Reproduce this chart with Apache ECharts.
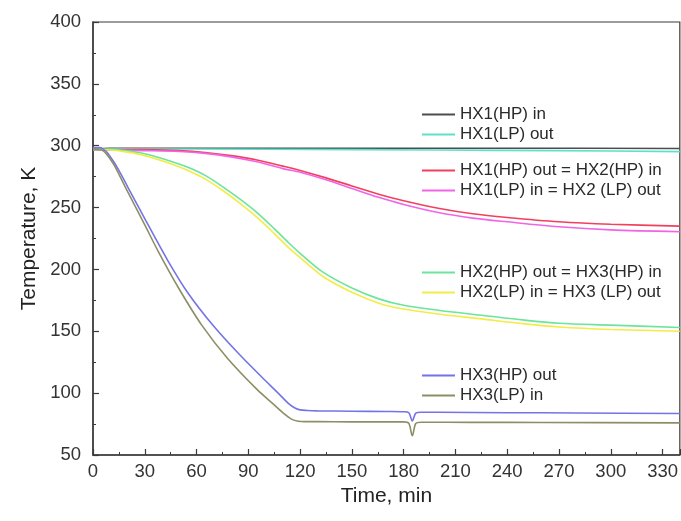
<!DOCTYPE html>
<html>
<head>
<meta charset="utf-8">
<script src="https://cdn.jsdelivr.net/npm/echarts@6/dist/echarts.min.js"></script>
<style>
  html, body { margin: 0; padding: 0; background: #fff; }
  #chart { width: 681px; height: 521px; }
</style>
</head>
<body>
<div id="chart"></div>
<script>
// Heat exchanger stream temperatures during cool-down (time in min, temperature in K)

const hx1HpInTime = [0, 10, 120, 240, 340];
const hx1HpIn     = [297.5, 298, 298, 298, 297.8];

const hx1LpOutTime = [0, 10, 100, 200, 270, 340];
const hx1LpOut     = [297, 297.5, 297.2, 296.5, 296, 295.2];

const hx1HpOutTime = [0, 10, 30, 50, 65, 80, 95, 110, 120, 135, 150, 165, 180, 200, 220, 240, 270, 300, 340];
const hx1HpOut     = [297, 297, 296.8, 296, 294.5, 292, 288.5, 283.5, 280, 274, 267.5, 261, 255.5, 249.5, 245, 242, 238.5, 236.5, 235];

const hx1LpInTime = [0, 10, 30, 50, 65, 80, 95, 110, 120, 135, 150, 165, 180, 200, 220, 240, 270, 300, 340];
const hx1LpIn     = [297, 296.5, 296, 295.3, 293.8, 291, 287, 281.5, 278.5, 272.5, 265.5, 258.5, 252.5, 246, 241.5, 238.5, 234.5, 232, 230.5];

const hx2HpOutTime = [0, 10, 20, 30, 45, 55, 65, 75, 85, 95, 105, 113, 120, 133, 150, 166, 180, 200, 225, 250, 270, 300, 340];
const hx2HpOut     = [297, 297, 295.8, 293.5, 287.5, 282.5, 276, 267, 257, 246, 233, 222, 213, 198, 185, 176, 171, 167, 163, 159, 156.5, 155, 153];

const hx2LpInTime = [0, 10, 20, 30, 45, 55, 65, 75, 85, 95, 105, 113, 120, 133, 150, 166, 180, 200, 225, 250, 270, 300, 340];
const hx2LpIn     = [297, 296.5, 294.8, 292, 285.5, 280, 273, 264, 253.5, 242, 229, 218, 209.5, 194.5, 181.5, 172.5, 168, 164, 160, 156, 153.5, 151.5, 150];

const hx3HpOutTime = [0, 4, 6, 8, 12, 15, 20, 30, 43, 55, 70, 85, 100, 108, 113, 117, 120, 124, 130, 150, 170, 180, 183, 185, 187, 190, 200, 240, 280, 340];
const hx3HpOut     = [298.5, 298.5, 297, 295, 287, 280, 267, 241, 208, 181, 154, 131, 110, 99, 92, 88, 86.5, 86, 85.7, 85.4, 85.2, 85, 84.2, 77.5, 83.8, 84.6, 84.5, 84.2, 84, 83.5];

const hx3LpInTime = [0, 5, 8, 12, 15, 20, 30, 38, 50, 63, 78, 95, 105, 111, 115, 119, 123, 130, 150, 180, 183, 185, 187, 190, 220, 260, 340];
const hx3LpIn     = [297, 296.5, 293, 285, 277, 263, 236, 214, 184, 155, 128, 103, 90.5, 83, 79, 77.3, 77, 77, 76.8, 76.8, 75.5, 65.5, 75.5, 76.5, 76.4, 76.3, 76];

const seriesNames = [
  'HX1(HP) in',
  'HX1(LP) out',
  'HX1(HP) out = HX2(HP) in',
  'HX1(LP) in = HX2 (LP) out',
  'HX2(HP) out = HX3(HP) in',
  'HX2(LP) in = HX3 (LP) out',
  'HX3(HP) out',
  'HX3(LP) in'
];
const seriesColors = ['#4d4d4d', '#5fe0c8', '#f2405c', '#f264e6', '#6ce49a', '#f2ec48', '#7474e6', '#8e8e66'];

const seriesTimes  = [hx1HpInTime, hx1LpOutTime, hx1HpOutTime, hx1LpInTime, hx2HpOutTime, hx2LpInTime, hx3HpOutTime, hx3LpInTime];
const seriesValues = [hx1HpIn, hx1LpOut, hx1HpOut, hx1LpIn, hx2HpOut, hx2LpIn, hx3HpOut, hx3LpIn];

const xTicks = { min: 0, max: 340, interval: 30 };
const yTicks = { min: 50, max: 400, interval: 50 };

const FONT = '"Liberation Sans", Arial, Helvetica, sans-serif';

const zip = (ts, vs) => ts.map((t, i) => [t, vs[i]]);

const series = seriesNames.map((name, i) => ({
  name,
  type: 'line',
  data: zip(seriesTimes[i], seriesValues[i]),
  symbol: 'none',
  smooth: 0.3,
  color: seriesColors[i],
  lineStyle: { color: seriesColors[i], width: 1.6 },
  z: 2 + i
}));

const legendBase = {
  orient: 'vertical',
  left: 422,
  padding: 0,
  icon: 'rect',
  itemWidth: 33,
  itemHeight: 2,
  itemGap: 3,
  selectedMode: false,
  textStyle: { fontFamily: FONT, fontSize: 17, color: '#2a2a2a', lineHeight: 14 }
};

const legendGroups = [
  { top: 106, names: seriesNames.slice(0, 2) },
  { top: 162, names: seriesNames.slice(2, 4) },
  { top: 264, names: seriesNames.slice(4, 6) },
  { top: 367, names: seriesNames.slice(6, 8) }
];

const chart = echarts.init(document.getElementById('chart'), null, { renderer: 'canvas' });
chart.setOption({
  animation: false,
  backgroundColor: '#ffffff',
  grid: {
    left: 93, right: 1, top: 22, bottom: 66,
    show: true, borderColor: '#3a3a3a', borderWidth: 1.2, backgroundColor: 'transparent'
  },
  legend: legendGroups.map(g => Object.assign({}, legendBase, { top: g.top, data: g.names })),
  xAxis: {
    type: 'value',
    min: xTicks.min, max: xTicks.max, interval: xTicks.interval,
    name: 'Time, min',
    nameLocation: 'middle',
    nameGap: 29,
    nameTextStyle: { fontFamily: FONT, fontSize: 21, color: '#222' },
    axisLine: { show: true, lineStyle: { color: '#3a3a3a', width: 1.5 } },
    axisTick: { show: true, inside: true, length: 6, lineStyle: { color: '#3a3a3a', width: 1.2 } },
    minorTick: { show: true, splitNumber: 2, length: 3, lineStyle: { color: '#3a3a3a', width: 1 } },
    axisLabel: { fontFamily: FONT, fontSize: 18.5, color: '#333', margin: 7, showMaxLabel: false },
    splitLine: { show: false }
  },
  yAxis: {
    type: 'value',
    min: yTicks.min, max: yTicks.max, interval: yTicks.interval,
    name: 'Temperature, K',
    nameLocation: 'middle',
    nameGap: 46,
    nameTextStyle: { fontFamily: FONT, fontSize: 21, color: '#222' },
    axisLine: { show: true, lineStyle: { color: '#3a3a3a', width: 1.5 } },
    axisTick: { show: true, inside: true, length: 6, lineStyle: { color: '#3a3a3a', width: 1.2 } },
    minorTick: { show: true, splitNumber: 2, length: 3, lineStyle: { color: '#3a3a3a', width: 1 } },
    axisLabel: { fontFamily: FONT, fontSize: 18.5, color: '#333', margin: 12 },
    splitLine: { show: false }
  },
  series
});
</script>
</body>
</html>
